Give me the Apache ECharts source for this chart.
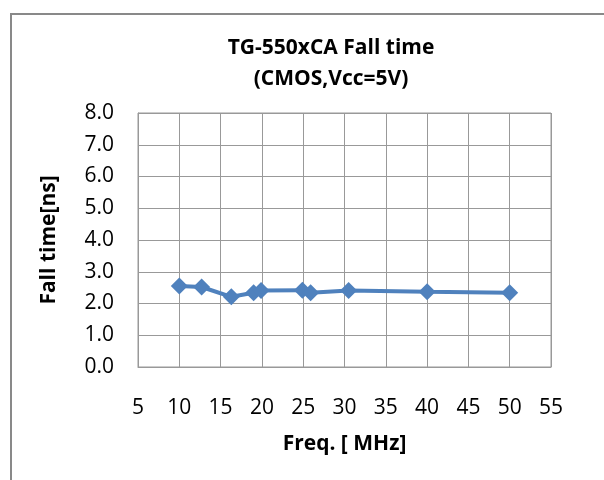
<!DOCTYPE html>
<html>
<head>
<meta charset="utf-8">
<script src="https://cdn.jsdelivr.net/npm/echarts@6/dist/echarts.min.js"></script>
<style>
  html, body { margin: 0; padding: 0; background: #fff; }
  #main { width: 604px; height: 480px; }
</style>
</head>
<body>
<div id="main"></div>
<script>
// 数据
var freqMHz = [10, 12.7, 16.3, 19.0, 19.9, 24.9, 25.9, 30.5, 40, 50];
var fallNs = [2.55, 2.52, 2.21, 2.34, 2.41, 2.42, 2.34, 2.41, 2.37, 2.34];
var xTicks = [5, 55, 5];   // min, max, interval
var yTicks = [0, 8, 1];

var points = freqMHz.map(function (f, i) { return [f, fallNs[i]]; });
var font = '"Open Sans", sans-serif';

var myChart = echarts.init(document.getElementById('main'));

var option = {
    backgroundColor: '#fff',
    animation: false,
    title: {
        text: 'TG-550xCA Fall time\n(CMOS,Vcc=5V)',
        left: 326,
        top: 28,
        textAlign: 'center',
        textStyle: { fontFamily: font, fontSize: 21, fontWeight: 'bold', color: '#000', lineHeight: 31 }
    },
    graphic: [{
        type: 'rect',
        shape: { x: 11, y: 14, width: 700, height: 600 },
        style: { fill: null, stroke: '#898989', lineWidth: 2 },
        silent: true
    }],
    grid: {
        left: 138, top: 113, width: 413, height: 254,
        show: true, borderColor: '#999', borderWidth: 1
    },
    xAxis: {
        type: 'value',
        min: xTicks[0], max: xTicks[1], interval: xTicks[2],
        name: 'Freq. [ MHz]',
        nameLocation: 'middle',
        nameGap: 67,
        nameTextStyle: { fontFamily: font, fontSize: 21, fontWeight: 'bold', color: '#000' },
        axisLine: { lineStyle: { color: '#999' } },
        axisTick: { show: false },
        axisLabel: { fontFamily: font, fontSize: 21, color: '#000', margin: 31 },
        splitLine: { lineStyle: { color: '#999' } }
    },
    yAxis: {
        type: 'value',
        min: yTicks[0], max: yTicks[1], interval: yTicks[2],
        name: 'Fall time[ns]',
        nameLocation: 'middle',
        nameGap: 78,
        nameTextStyle: { fontFamily: font, fontSize: 21, fontWeight: 'bold', color: '#000' },
        axisLine: { show: true, lineStyle: { color: '#999' } },
        axisTick: { show: false },
        axisLabel: {
            fontFamily: font, fontSize: 21, color: '#000', margin: 24,
            formatter: function (v) { return v.toFixed(1); }
        },
        splitLine: { lineStyle: { color: '#999' } }
    },
    series: [{
        type: 'line',
        data: points,
        symbol: 'diamond',
        symbolSize: 17,
        itemStyle: { color: '#4F81BD' },
        lineStyle: { color: '#4F81BD', width: 4 }
    }]
};
myChart.setOption(option);
</script>
</body>
</html>
